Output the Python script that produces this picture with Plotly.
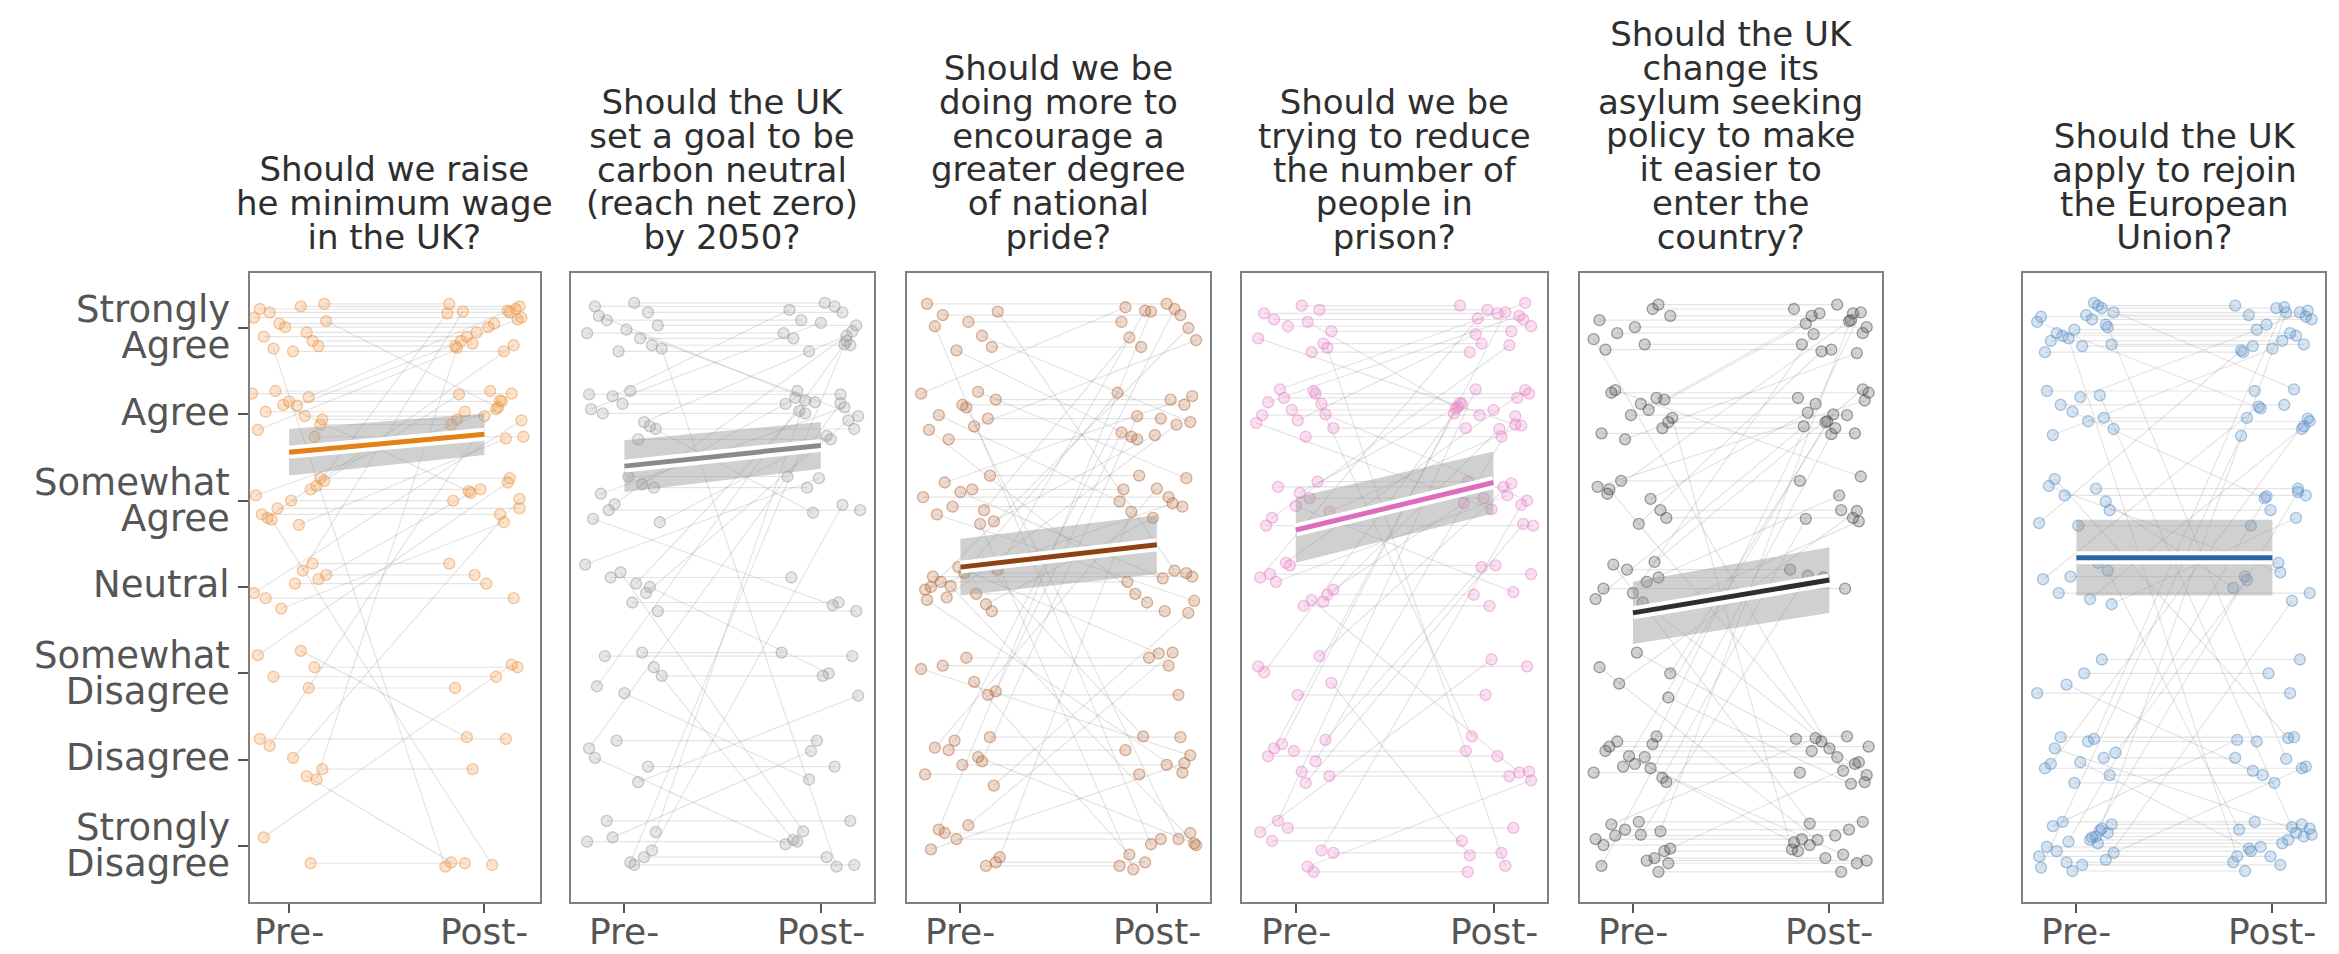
import plotly.graph_objects as go

W, H = 2339, 954

# ---------------- data ----------------
level_lines = [["Strongly", "Disagree"], ["Disagree"], ["Somewhat", "Disagree"], ["Neutral"],
               ["Somewhat", "Agree"], ["Agree"], ["Strongly", "Agree"]]
time_labels = ["Pre-", "Post-"]

titles = [
    ["Should we raise", "he minimum wage", "in the UK?"],
    ["Should the UK", "set a goal to be", "carbon neutral", "(reach net zero)", "by 2050?"],
    ["Should we be", "doing more to", "encourage a", "greater degree", "of national", "pride?"],
    ["Should we be", "trying to reduce", "the number of", "people in", "prison?"],
    ["Should the UK", "change its", "asylum seeking", "policy to make", "it easier to", "enter the", "country?"],
    ["Should the UK", "apply to rejoin", "the European", "Union?"],
]

# responses: 0 = Strongly Disagree ... 6 = Strongly Agree
p1_pre = [6,6,6,6,6,6,6,6,6,6,6,6,6,6,
          5,5,5,5,5,5,5,5,5,5,5,5,
          4,4,4,4,4,4,4,4,4,4,4,
          3,3,3,3,3,3,3,3,
          2,2,2,2,2,
          1,1,1,1,1,1,
          0,0]
p1_post = [6,6,6,6,6,6,6,6,6,6,6,6,5,0,
           6,6,6,5,5,5,5,5,5,5,5,4,
           6,6,5,5,5,4,4,4,4,4,0,
           6,5,4,4,3,3,3,3,
           4,2,2,2,1,
           6,5,4,1,1,0,
           2,0]
p1_jy = [22,-15,5,28,-27,12,-5,18,-21,1,25,-10,8,-24, 20,-18,10,-6,27,-26,3,15,-12,24,-2,11,
         -20,17,6,-28,23,-9,13,-16,0,26,-22, 19,-7,9,-25,27,-13,4,14, 21,-17,7,-4,26,
         -23,16,2,-11,24,-19, 10,-20]
p1_jxa = [-15,12,-5,18,2,-18,9,-10,15,-2,6,-13,19,-8, 10,-16,4,17,-7,13,-12,0,16,-19,8,-3,
          -11,14,-17,5,18,-6,11,-14,1,16,-9, 7,-18,15,-4,12,-12,3,19, -16,10,13,-8,6,
          14,-10,2,17,-15,9, -13,11]
p1_jxb = [16,-12,5,-18,10,19,-4,13,-15,2,18,-9,7,-20, 12,-6,17,-14,3,20,-10,9,-17,14,0,-8,
          15,-19,6,11,-13,18,-2,8,-16,13,4, -11,19,-7,10,-18,15,1,-5, 12,-15,17,6,-9,
          -14,8,18,-6,11,-17, 14,-10]

p2_pre = [6,6,6,6,6,6,6,6,6,6,6,6,
          5,5,5,5,5,5,5,5,5,5,
          4,4,4,4,4,4,4,4,
          3,3,3,3,3,3,3,3,
          2,2,2,2,2,2,
          1,1,1,1,1,
          0,0,0,0,0,0,0,0]
p2_post = [6,6,6,6,6,6,6,6,6,5,5,0,
           6,6,6,5,5,5,5,5,5,4,
           6,5,5,5,4,4,4,3,
           5,5,4,3,3,3,0,2,
           6,2,2,2,1,0,
           5,2,1,1,0,
           6,5,0,0,0,0,1,4]
p2_jy = [-12,25,3,-27,18,-6,29,-20,9,-2,14,-24,21,-9,6,27,-17,1,-29,12,
         23,-14,-4,19,-25,8,28,-11,15,-21,4,-7,26,-18,11,-28,17,0,-15,24,
         -3,20,-23,7,13,-26,22,-8,2,-19,16,29,-13,5,-22,10,-5,27,-16,18]
p2_jxa = [8,-15,17,-3,12,-19,5,14,-9,1,-13,19,-6,10,-17,3,16,-11,7,-1,
          -18,13,-5,9,18,-12,2,-8,15,-16,6,11,-20,4,-7,17,-2,13,-14,9,
          19,-10,0,15,-18,7,-4,12,-15,3,16,-9,10,-19,5,-6,14,-13,1,18]
p2_jxb = [-14,7,18,-6,11,-19,2,15,-10,19,-3,8,-16,13,0,-12,17,-8,5,-18,
          10,-4,16,-13,3,12,-17,20,-7,6,-11,14,-1,9,-15,18,-9,4,13,-20,
          1,16,-6,-14,10,19,-2,7,-18,12,-8,15,3,-12,17,-5,11,-16,6,19]

p3_pre = [6,6,6,6,6,6,6,6,
          5,5,5,5,5,5,5,5,5,5,
          4,4,4,4,4,4,4,4,4,4,
          3,3,3,3,3,3,3,3,3,3,3,3,3,3,3,
          2,2,2,2,2,2,
          1,1,1,1,1,1,1,1,1,
          0,0,0,0,0,0,0,0]
p3_post = [6,6,6,6,5,5,3,0,
           6,6,5,5,5,5,4,4,3,0,
           6,5,5,4,4,4,4,3,3,0,
           6,6,5,5,4,4,3,3,3,3,3,2,1,1,0,
           5,2,2,2,1,0,
           6,5,4,3,1,1,1,1,0,
           6,4,2,1,0,0,0,0]
p3_jy = [15,-22,7,28,-9,-26,19,2,-14,24,-5,11,-29,17,-1,26,-18,8,-11,21,
         -24,4,13,-7,29,-16,10,-27,0,20,-12,25,-3,-20,16,6,-28,12,-8,23,
         -15,27,1,-21,9,18,-25,5,-10,22,-2,14,-30,11,-6,26,-17,3,19,-13,
         24,-4,-23,8,15,-19,28,-11,2,21]
p3_jxa = [-9,16,4,-17,11,-2,19,-13,7,-20,14,1,-6,18,-11,9,-16,3,12,-8,
          17,-19,6,-4,15,-12,0,10,-15,19,-7,5,-18,13,2,-10,16,-14,8,-1,
          -17,12,-5,18,-9,3,14,-20,7,-3,11,-13,17,-6,1,15,-18,9,-11,20,
          4,-15,13,-2,-8,18,-12,6,10,-19]
p3_jxb = [12,-8,-18,5,17,-13,9,-3,20,-16,2,14,-10,7,-19,15,-5,11,-14,18,
          -1,6,-17,13,-9,19,3,-12,16,-6,10,-20,8,-2,15,-15,4,18,-11,1,
          13,-7,20,-18,6,-4,11,17,-14,9,-10,0,16,-16,5,12,-9,19,-3,-13,
          8,14,-19,2,17,-6,10,-12,18,-1]

p4_pre = [6,6,6,6,6,6,6,6,6,6,6,
          5,5,5,5,5,5,5,5,5,5,5,5,5,
          4,4,4,4,4,4,4,4,
          3,3,3,3,3,3,3,3,3,3,
          2,2,2,2,2,
          1,1,1,1,1,1,1,1,1,
          0,0,0,0,0,0,0,0]
p4_post = [6,6,6,6,6,6,6,6,5,5,0,
           6,6,6,5,5,5,5,5,5,5,4,4,1,
           6,5,5,4,4,4,4,3,
           6,5,5,4,4,3,3,3,3,1,
           5,4,2,2,0,
           6,5,5,4,3,1,1,1,1,
           5,4,2,1,0,0,0,0]
p4_jy = [-18,10,26,-4,17,-28,2,21,-12,7,-23,29,-7,14,-16,5,24,-1,-26,12,
         19,-10,0,27,-20,9,-13,16,3,-29,22,-6,11,-17,28,-3,6,-22,15,-9,
         25,-15,1,20,-25,8,-11,18,-2,13,-27,23,4,-14,10,-19,29,-5,16,-24,
         6,-8,21,-30,12,3]
p4_jxa = [14,-11,3,18,-16,8,-4,12,-19,6,16,-8,1,-14,19,-2,10,-17,5,13,
          -6,-20,15,9,-12,2,17,-9,7,-15,11,0,-18,14,-5,19,-10,4,-13,16,
          -3,8,-16,12,1,-19,18,-7,10,-11,5,15,-14,3,-1,17,-9,13,-18,6,
          -12,19,-4,9,-17,11]
p4_jxb = [-6,15,-17,9,2,-12,19,-3,11,-19,6,16,-9,13,-14,0,18,-7,4,-16,
          12,-1,17,-11,8,-18,14,5,-5,20,-13,10,-8,3,16,-15,7,-2,19,-10,
          1,13,-20,9,-4,17,-12,6,11,-17,15,-6,2,18,-14,8,-9,14,-1,19,
          -16,4,10,-13,16,-5]

p5_pre = [6,6,6,6,6,6,6,6,6,
          5,5,5,5,5,5,5,5,5,5,5,5,
          4,4,4,4,4,4,4,4,
          3,3,3,3,3,3,3,3,3,3,
          2,2,2,2,2,
          1,1,1,1,1,1,1,1,1,1,1,1,1,
          0,0,0,0,0,0,0,0,0,0,0,0,0,0,0]
p5_post = [6,6,6,6,6,6,6,6,1,
           6,6,6,5,5,5,5,5,5,5,4,0,
           6,6,5,5,4,4,4,1,
           6,5,5,4,4,3,3,3,1,0,
           5,4,1,1,0,
           6,5,4,1,1,1,1,1,1,1,1,0,0,
           6,5,3,1,1,0,0,0,0,0,0,0,0,0,0]
p5_jy = [9,-19,27,-6,14,-25,1,22,-13,17,-29,5,25,-9,-1,19,-22,12,-16,28,
         -4,8,-27,16,2,-11,23,-20,13,-7,29,-14,6,-24,20,-2,11,-18,26,0,
         -12,24,-28,7,18,-8,-21,15,3,-15,27,-5,10,-26,21,-10,4,17,-23,13,
         -3,25,-17,8,-30,19,-6,12,28,-14,1,-20,22,-9]
p5_jxa = [-17,6,13,-8,19,-14,1,10,-20,16,-4,8,-11,18,-1,12,-16,4,15,-9,
          20,-13,3,-18,9,14,-6,17,-12,0,11,-19,7,16,-3,-15,13,5,-10,19,
          -7,2,18,-17,10,-5,15,-12,6,-20,12,1,-14,17,-8,9,-2,14,-16,4,
          19,-11,7,-19,13,-4,16,-9,3,11,-15,18,-6,8]
p5_jxb = [11,-14,4,17,-9,1,19,-18,7,-5,14,-12,20,-2,9,-16,13,-7,3,16,
          -19,10,-4,18,-11,6,-15,12,0,-8,17,-13,5,15,-20,8,-3,19,-10,2,
          14,-17,11,-6,16,-1,-12,20,4,-15,9,13,-9,18,-4,7,-18,12,1,-11,
          15,-7,19,-14,6,10,-16,3,17,-2,-10,14,-19,8]

p6_pre = [6,6,6,6,6,6,6,6,6,6,6,6,6,6,6,6,6,6,
          5,5,5,5,5,5,5,5,5,
          4,4,4,4,4,4,4,4,
          3,3,3,3,3,3,3,
          2,2,2,2,
          1,1,1,1,1,1,1,1,1,1,1,
          0,0,0,0,0,0,0,0,0,0,0,0,0,0,0,0,0,0,0,0]
p6_post = [6,6,6,6,6,6,6,6,6,6,6,6,6,6,5,5,0,1,
           6,6,5,5,5,5,5,4,0,
           6,4,4,4,4,3,3,1,
           5,5,4,3,3,3,0,
           2,2,2,1,
           6,5,3,1,1,1,1,1,1,0,0,
           6,5,4,4,3,1,1,0,0,0,0,0,0,0,0,0,0,0,0,0]
p6_jy = [-21,13,4,-9,26,-15,18,-2,10,-28,23,-6,15,-19,7,29,-12,1,-24,20,
         -4,11,-17,27,-8,3,22,-26,14,-11,6,-29,17,-1,25,-14,9,-20,12,28,
         -7,19,-23,0,16,-13,24,-5,8,-27,21,-10,2,26,-18,13,-3,18,-25,10,
         5,-16,23,-8,28,-22,11,-1,15,-29,20,-12,7,-6,25,-19,3,17,-14,27]
p6_jxa = [3,-18,15,-7,11,-13,19,-1,8,-16,13,-10,5,18,-20,9,-4,16,-12,2,
          14,-8,19,-15,6,-2,12,-19,10,17,-6,1,-14,15,-11,7,-17,18,-3,11,
          -9,16,-20,4,13,-5,9,-13,20,-1,6,-16,14,-8,17,-11,2,12,-18,8,
          -4,15,-12,19,-7,3,10,-15,16,-2,13,-19,7,-10,18,-5,11,-17,1,14]
p6_jxb = [-10,17,-3,12,-19,5,14,-8,20,-15,2,9,-12,16,-6,11,-18,7,0,18,
          -13,6,15,-9,19,-4,10,-16,13,-1,17,-11,4,-20,8,16,-7,12,-14,3,
          19,-17,9,-2,14,-10,6,18,-13,1,-8,15,-19,11,-5,20,-12,7,-16,13,
          -3,10,-18,17,-9,4,16,-6,12,-14,19,-1,8,-11,15,-20,5,-7,13,-15]

# fitted line (pre, post) and half-width of the confidence band
fit_pre = [4.56, 4.40, 3.23, 3.66, 2.70, 3.34]
fit_post = [4.77, 4.64, 3.49, 4.21, 3.08, 3.34]
ci_pre = [0.27, 0.30, 0.33, 0.38, 0.36, 0.44]
ci_post = [0.24, 0.27, 0.34, 0.36, 0.38, 0.44]

point_colors = ["#ef9440", "#9a9a9a", "#b5683a", "#e884c8", "#4a4a4a", "#5b8fc7"]
line_colors = ["#e3801a", "#8a8a8a", "#8f4214", "#dd6cbb", "#2e2e2e", "#2a66a3"]

# ---------------- layout geometry ----------------
x_dom_px = [(249.5, 540.0), (571.0, 873.5), (907.0, 1209.5),
            (1242.0, 1546.5), (1579.5, 1882.0), (2023.0, 2325.0)]
x_ranges = [(-0.203, 1.285), (-0.272, 1.268), (-0.272, 1.268),
            (-0.272, 1.268), (-0.272, 1.268), (-0.272, 1.268)]
y_top_px, y_bot_px = 273.0, 902.0
y_range = [-0.649, 6.637]

panels = [
    (p1_pre, p1_post, p1_jy, p1_jxa, p1_jxb),
    (p2_pre, p2_post, p2_jy, p2_jxa, p2_jxb),
    (p3_pre, p3_post, p3_jy, p3_jxa, p3_jxb),
    (p4_pre, p4_post, p4_jy, p4_jxa, p4_jxb),
    (p5_pre, p5_post, p5_jy, p5_jxa, p5_jxb),
    (p6_pre, p6_post, p6_jy, p6_jxa, p6_jxb),
]


def rgba(hexc, a):
    hexc = hexc.lstrip("#")
    r, g, b = int(hexc[0:2], 16), int(hexc[2:4], 16), int(hexc[4:6], 16)
    return f"rgba({r},{g},{b},{a})"


def py(p):
    return (H - p) / H


def tight_lines(lines, size):
    # the block keeps a small base font (tight line spacing); each line is drawn at `size`
    return "<br>".join(f'<span style="font-size:{size}px">{t}</span>' for t in lines)


FONT = "DejaVu Sans"
fig = go.Figure()

for i, (pre, post, jy, jxa, jxb) in enumerate(panels):
    k = "" if i == 0 else str(i + 1)
    xa, ya = "x" + k, "y" + k
    lx, ly, mx, my = [], [], [], []
    for a, b, j, u, v in zip(pre, post, jy, jxa, jxb):
        y0, y1 = a + j / 100.0, b + j / 100.0
        x0, x1 = u / 100.0, 1 + v / 100.0
        lx += [x0, x1, None]
        ly += [y0, y1, None]
        mx += [x0, x1]
        my += [y0, y1]
    fig.add_trace(go.Scatter(x=lx, y=ly, mode="lines", xaxis=xa, yaxis=ya,
                             line=dict(color="rgba(120,120,120,0.2)", width=1.2),
                             hoverinfo="skip", showlegend=False))
    fig.add_trace(go.Scatter(x=mx, y=my, mode="markers", xaxis=xa, yaxis=ya,
                             marker=dict(size=11, color=rgba(point_colors[i], 0.25),
                                         line=dict(color=rgba(point_colors[i], 0.5), width=1.3)),
                             hoverinfo="skip", showlegend=False))
    fp, fq, hp, hq = fit_pre[i], fit_post[i], ci_pre[i], ci_post[i]
    fig.add_trace(go.Scatter(x=[0, 1, 1, 0, 0], y=[fp - hp, fq - hq, fq + hq, fp + hp, fp - hp],
                             mode="lines", fill="toself", fillcolor="rgba(150,150,150,0.45)",
                             line=dict(width=0), xaxis=xa, yaxis=ya,
                             hoverinfo="skip", showlegend=False))
    fig.add_trace(go.Scatter(x=[0, 1], y=[fp, fq], mode="lines", xaxis=xa, yaxis=ya,
                             line=dict(color="white", width=13),
                             hoverinfo="skip", showlegend=False))
    fig.add_trace(go.Scatter(x=[0, 1], y=[fp, fq], mode="lines", xaxis=xa, yaxis=ya,
                             line=dict(color=line_colors[i], width=5),
                             hoverinfo="skip", showlegend=False))

layout = dict(
    width=W, height=H, margin=dict(l=0, r=0, t=0, b=0),
    paper_bgcolor="white", plot_bgcolor="white", showlegend=False,
    font=dict(family=FONT, color="#555555"),
)

annotations = []
for i in range(6):
    k = "" if i == 0 else str(i + 1)
    x0p, x1p = x_dom_px[i]
    layout["xaxis" + k] = dict(
        domain=[x0p / W, x1p / W], range=list(x_ranges[i]), anchor="y" + k,
        tickmode="array", tickvals=[0, 1], showticklabels=False,
        ticks="outside", ticklen=9, tickwidth=2, tickcolor="#555555",
        showline=True, mirror=True, linecolor="#808080", linewidth=2,
        showgrid=False, zeroline=False, fixedrange=True)
    layout["yaxis" + k] = dict(
        domain=[py(y_bot_px), py(y_top_px)], range=y_range, anchor="x" + k,
        tickmode="array", tickvals=list(range(7)), showticklabels=False,
        ticks="outside" if i == 0 else "", ticklen=10, tickwidth=2, tickcolor="#555555",
        showline=True, mirror=True, linecolor="#808080", linewidth=2,
        showgrid=False, zeroline=False, fixedrange=True)
    # x tick labels
    for tv, tl in zip([0, 1], time_labels):
        annotations.append(dict(text=tl, x=tv, y=py(931), xref="x" + k, yref="paper",
                                xanchor="center", yanchor="middle", showarrow=False,
                                font=dict(family=FONT, size=36, color="#555555")))
    # title block, bottom aligned above the panel
    cx = (x0p + x1p) / 2 / W
    annotations.append(dict(text=tight_lines(titles[i], 34), x=cx, y=py(258),
                            xref="paper", yref="paper", xanchor="center", yanchor="bottom",
                            align="center", showarrow=False, borderpad=0,
                            font=dict(family=FONT, size=26, color="#2e2e2e")))

# y tick labels (left panel)
for lv, lines in enumerate(level_lines):
    annotations.append(dict(text=tight_lines(lines, 37), x=231 / W, y=lv, xref="paper", yref="y",
                            xanchor="right", yanchor="middle", align="right",
                            yshift=0 if len(lines) > 1 else 2, showarrow=False, borderpad=0,
                            font=dict(family=FONT, size=28, color="#555555")))

layout["annotations"] = annotations
fig.update_layout(**layout)
fig.write_html("out.html",
               config={"displayModeBar": False, "staticPlot": True},
               post_script="document.body.style.margin='0px';"
                           "document.body.style.overflow='hidden';")
